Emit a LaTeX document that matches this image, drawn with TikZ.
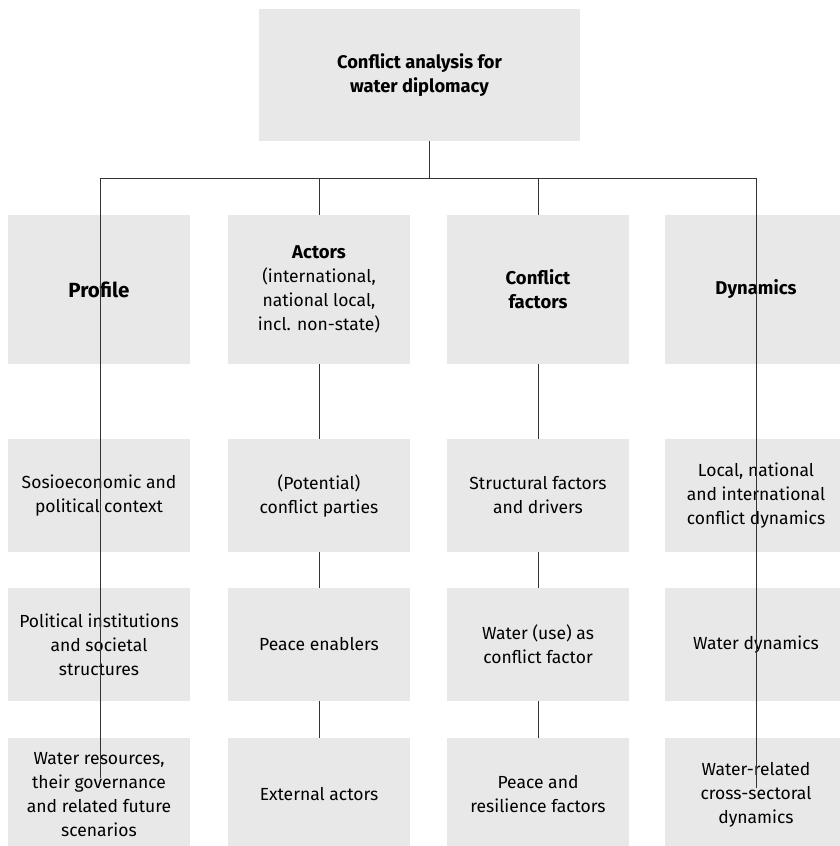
\documentclass[tikz,border=0pt]{standalone}
\usepackage{fontspec}
\setmainfont{Fira Sans}
\definecolor{boxgray}{HTML}{E8E8E8}
\definecolor{linegray}{HTML}{333333}
\begin{document}
\begin{tikzpicture}[x=1pt,y=-1pt,
  box/.style={fill=boxgray, inner sep=0pt, minimum width=182pt, align=center,
    font=\fontsize{17.5}{24}\selectfont},
  topbox/.style={box, minimum width=321pt, minimum height=132pt,
    font=\fontsize{18.3}{24}\selectfont\bfseries},
  hbox/.style={box, minimum height=149pt},
  hbold/.style={hbox, font=\fontsize{18.5}{24}\selectfont\bfseries},
  rbox/.style={box, minimum height=113pt},
  link/.style={draw=linegray, line width=1pt}]
\useasboundingbox (0,0) rectangle (840,846);
\clip (0,0) rectangle (840,846);
% top
\node[topbox] (top) at (419.5,75) {Conflict analysis for\\water diplomacy};
% headers
\node[hbold, font=\fontsize{20.5}{24}\selectfont\bfseries] (h1) at (99,289.5) {Profile};
\node[hbox] (h2) at (319,289.5) {\textbf{\fontsize{18.5}{24}\selectfont Actors}\\(international,\\national local,\\incl. non-state)};
\node[hbold] (h3) at (538,289.5) {Conflict\\factors};
\node[hbold] (h4) at (756,289.5) {Dynamics};
% row 1
\node[rbox] (a1) at (99,495.5) {Sosioeconomic and\\political context};
\node[rbox] (b1) at (319,495.5) {(Potential)\\conflict parties};
\node[rbox] (c1) at (538,495.5) {Structural factors\\and drivers};
\node[rbox] (d1) at (756,495.5) {Local, national\\and international\\conflict dynamics};
% row 2
\node[rbox] (a2) at (99,644.5) {Political institutions\\and societal\\structures};
\node[rbox] (b2) at (319,644.5) {Peace enablers};
\node[rbox] (c2) at (538,644.5) {Water (use) as\\conflict factor};
\node[rbox] (d2) at (756,644.5) {Water dynamics};
% row 3
\node[rbox] (a3) at (99,794.5) {Water resources,\\their governance\\and related future\\scenarios};
\node[rbox] (b3) at (319,794.5) {External actors};
\node[rbox] (c3) at (538,794.5) {Peace and\\resilience factors};
\node[rbox] (d3) at (756,794.5) {Water-related\\cross-sectoral\\dynamics};
% junction coordinates
\coordinate (j) at (429,178);
\coordinate (jl) at (100,178);
\coordinate (jr) at (756,178);
\coordinate (el) at (100,778);
\coordinate (er) at (756,788);
% connectors
\draw[link] (j |- top.south) -- (j);
\draw[link] (jl) -- (jr);
\draw[link] (jl) -- (el);
\draw[link] (jr) -- (er);
\draw[link] (h2.north |- j) -- (h2.north);
\draw[link] (h3.north |- j) -- (h3.north);
\draw[link] (h2.south) -- (b1.north);
\draw[link] (b1.south) -- (b2.north);
\draw[link] (b2.south) -- (b3.north);
\draw[link] (h3.south) -- (c1.north);
\draw[link] (c1.south) -- (c2.north);
\draw[link] (c2.south) -- (c3.north);
\end{tikzpicture}
\end{document}
